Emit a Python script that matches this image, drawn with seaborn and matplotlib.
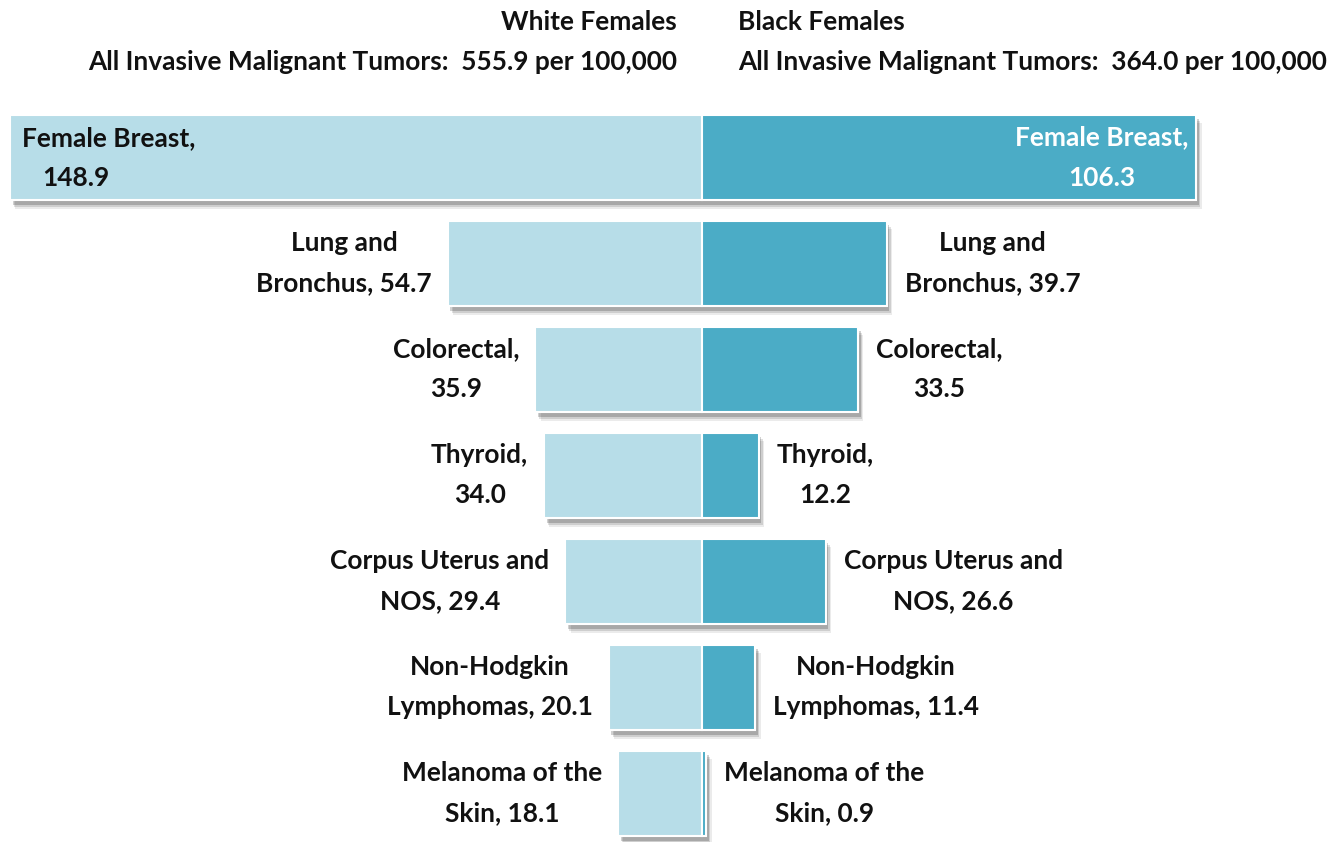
import matplotlib
matplotlib.use("Agg")
import matplotlib.pyplot as plt
import matplotlib.patheffects as pe
import seaborn as sns
import pandas as pd

# Incidence rates per 100,000, by site
sites = ["Female Breast", "Lung and Bronchus", "Colorectal", "Thyroid",
         "Corpus Uterus and NOS", "Non-Hodgkin Lymphomas", "Melanoma of the Skin"]
white_rates = [148.9, 54.7, 35.9, 34.0, 29.4, 20.1, 18.1]
black_rates = [106.3, 39.7, 33.5, 12.2, 26.6, 11.4, 0.9]

# Two-line label pieces: first line, prefix of second line (value is appended)
line_one = ["Female Breast,", "Lung and", "Colorectal,", "Thyroid,",
            "Corpus Uterus and", "Non-Hodgkin", "Melanoma of the"]
line_two_prefix = ["", "Bronchus, ", "", "", "NOS, ", "Lymphomas, ", "Skin, "]

group_names = ["White Females", "Black Females"]
group_totals = [555.9, 364.0]

LIGHT = "#B7DDE8"
DARK = "#4BACC6"

sns.set_theme(style="white")
plt.rcParams["font.family"] = ["Lato", "DejaVu Sans"]

df = pd.DataFrame({
    "site": sites,
    "white_neg": [-v for v in white_rates],
    "black": black_rates,
})

fig = plt.figure(figsize=(13.31, 8.42), dpi=100)
ax = fig.add_axes([0, 0, 1, 1])

bar_kw = dict(orient="h", width=0.81, edgecolor="white", linewidth=1.5, ax=ax)
sns.barplot(data=df, y="site", x="white_neg", color=LIGHT, saturation=1, **bar_kw)
sns.barplot(data=df, y="site", x="black", color=DARK, saturation=1, **bar_kw)

shadow = [
    pe.SimplePatchShadow(offset=(4, -6), shadow_rgbFace="#000000", alpha=0.08),
    pe.SimplePatchShadow(offset=(3, -4.5), shadow_rgbFace="#000000", alpha=0.12),
    pe.SimplePatchShadow(offset=(2, -3), shadow_rgbFace="#000000", alpha=0.18),
    pe.Normal(),
]
for p in ax.patches:
    p.set_path_effects(shadow)

ax.set_xlim(-151, 135.3)
ax.set_ylim(6.458, -1.486)
ax.axis("off")

fs = 18.9
tkw = dict(fontsize=fs, fontweight="bold", color="#111111", va="center",
           multialignment="center", linespacing=1.8)

for i, (w, b) in enumerate(zip(white_rates, black_rates)):
    if i == 0:
        ax.text(-146.2, i - 0.185, line_one[i], ha="left", **tkw)
        ax.text(-141.9, i + 0.19, f"{w:.1f}", ha="left", **tkw)
        ax.text(b - 1.7, i, f"{line_one[i]}\n{b:.1f}", ha="right",
                **{**tkw, "color": "white"})
        continue
    ax.text(-w - 3.4, i, f"{line_one[i]}\n{line_two_prefix[i]}{w:.1f}",
            ha="right", **tkw)
    ax.text(b + 3.9, i, f"{line_one[i]}\n{line_two_prefix[i]}{b:.1f}",
            ha="left", **tkw)

hkw = dict(fontsize=fs, fontweight="bold", color="#111111", va="center")
ax.text(-5.4, -1.278, group_names[0], ha="right", **hkw)
ax.text(-5.4, -0.901, f"All Invasive Malignant Tumors:  {group_totals[0]:.1f} per 100,000",
        ha="right", **hkw)
ax.text(7.74, -1.278, group_names[1], ha="left", **hkw)
ax.text(7.74, -0.901, f"All Invasive Malignant Tumors:  {group_totals[1]:.1f} per 100,000",
        ha="left", **hkw)

fig.savefig("out.png", dpi=100, facecolor="white")
